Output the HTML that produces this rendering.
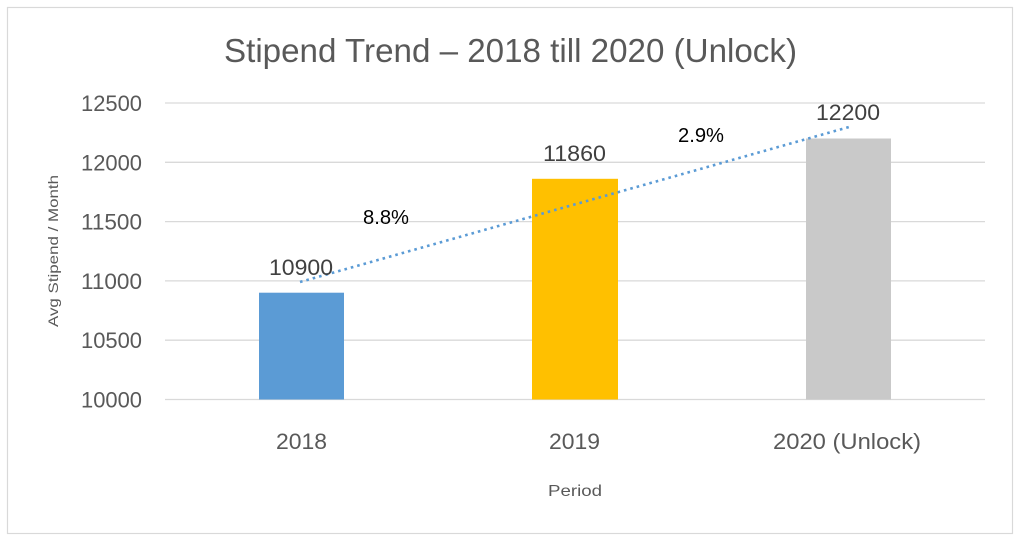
<!DOCTYPE html>
<html>
<head>
<meta charset="utf-8">
<style>
  html,body{margin:0;padding:0;background:#fff;}
  svg{display:block;}
  text{font-family:"Liberation Sans",sans-serif;}
</style>
</head>
<body>
<svg width="1024" height="545" viewBox="0 0 1024 545" xmlns="http://www.w3.org/2000/svg">
  <rect x="0" y="0" width="1024" height="545" fill="#ffffff"/>
  <rect x="7.5" y="7.5" width="1005" height="526" fill="#ffffff" stroke="#d9d9d9" stroke-width="1.2"/>

  <!-- Title -->
  <text x="224" y="62" font-size="33" fill="#595959" textLength="573" lengthAdjust="spacingAndGlyphs">Stipend Trend – 2018 till 2020 (Unlock)</text>

  <!-- Gridlines -->
  <g stroke="#d9d9d9" stroke-width="1.3">
    <line x1="165" y1="103" x2="985" y2="103"/>
    <line x1="165" y1="162.3" x2="985" y2="162.3"/>
    <line x1="165" y1="221.6" x2="985" y2="221.6"/>
    <line x1="165" y1="280.9" x2="985" y2="280.9"/>
    <line x1="165" y1="340.2" x2="985" y2="340.2"/>
    <line x1="165" y1="399.5" x2="985" y2="399.5"/>
  </g>

  <!-- Y tick labels -->
  <g font-size="22" fill="#595959" text-anchor="end">
    <text x="142" y="111" textLength="61" lengthAdjust="spacingAndGlyphs">12500</text>
    <text x="142" y="170.3" textLength="61" lengthAdjust="spacingAndGlyphs">12000</text>
    <text x="142" y="229.6" textLength="61" lengthAdjust="spacingAndGlyphs">11500</text>
    <text x="142" y="288.9" textLength="61" lengthAdjust="spacingAndGlyphs">11000</text>
    <text x="142" y="348.2" textLength="61" lengthAdjust="spacingAndGlyphs">10500</text>
    <text x="142" y="407.5" textLength="61" lengthAdjust="spacingAndGlyphs">10000</text>
  </g>

  <!-- Axis title -->
  <text transform="translate(58,251) rotate(-90)" x="0" y="0" font-size="14" fill="#595959" text-anchor="middle" textLength="152" lengthAdjust="spacingAndGlyphs">Avg Stipend / Month</text>

  <!-- Bars -->
  <rect x="259" y="292.7" width="85" height="106.8" fill="#5b9bd5"/>
  <rect x="532" y="178.8" width="86" height="220.7" fill="#ffc000"/>
  <rect x="806" y="138.5" width="85" height="261" fill="#c9c9c9"/>

  <!-- Trend line -->
  <line x1="300" y1="282" x2="849" y2="127" stroke="#5b9bd5" stroke-width="2.6" stroke-dasharray="2.6 4" />

  <!-- Data labels -->
  <g font-size="22" fill="#404040">
    <text x="269" y="275" textLength="64" lengthAdjust="spacingAndGlyphs">10900</text>
    <text x="543" y="161" textLength="63" lengthAdjust="spacingAndGlyphs">11860</text>
    <text x="816" y="120" textLength="64" lengthAdjust="spacingAndGlyphs">12200</text>
  </g>

  <!-- Percent labels -->
  <g font-size="20" fill="#000000">
    <text x="363" y="224" textLength="46" lengthAdjust="spacingAndGlyphs">8.8%</text>
    <text x="678" y="142" textLength="46" lengthAdjust="spacingAndGlyphs">2.9%</text>
  </g>

  <!-- X labels -->
  <g font-size="22" fill="#595959">
    <text x="276" y="449" textLength="51" lengthAdjust="spacingAndGlyphs">2018</text>
    <text x="549" y="449" textLength="51" lengthAdjust="spacingAndGlyphs">2019</text>
    <text x="773" y="449" textLength="148" lengthAdjust="spacingAndGlyphs">2020 (Unlock)</text>
  </g>

  <text x="548" y="496" font-size="16" fill="#595959" textLength="54" lengthAdjust="spacingAndGlyphs">Period</text>
</svg>
</body>
</html>
